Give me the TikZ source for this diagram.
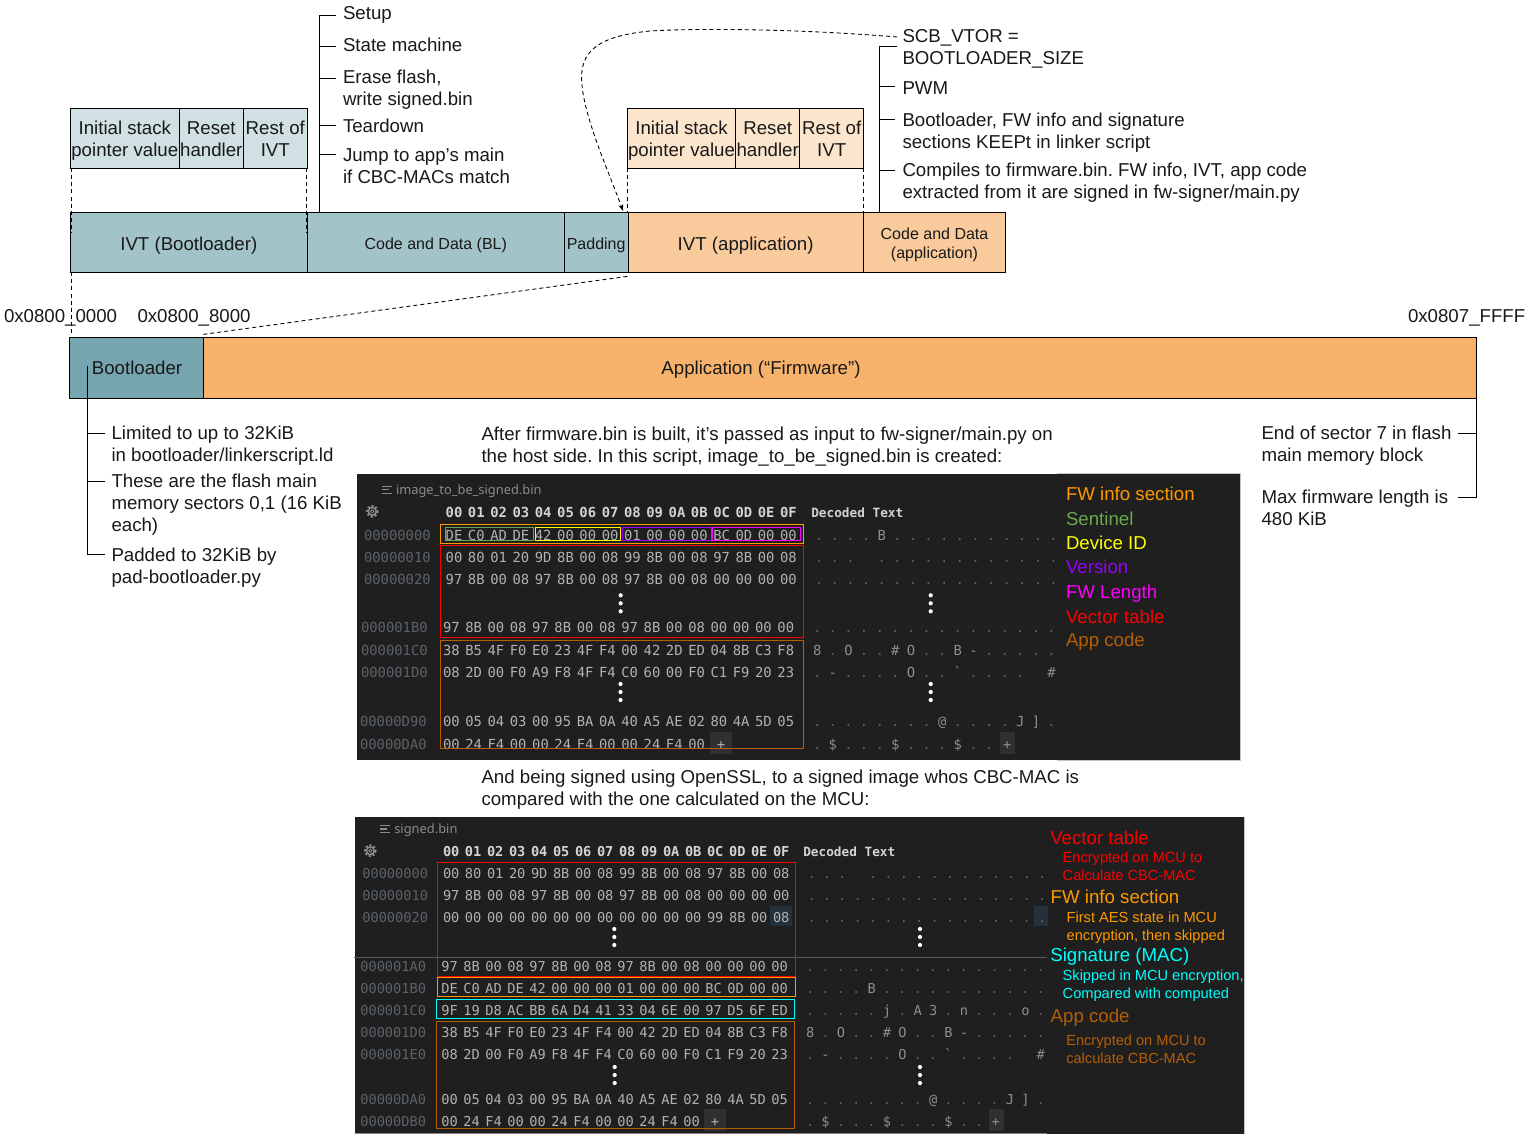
\documentclass[tikz,border=0pt]{standalone}
\usepackage{fontspec}
\setmainfont{Liberation Sans}
\newfontfamily\hexfam{DejaVu Sans Mono}
\newfontfamily\tabfam{Noto Sans}
\usetikzlibrary{arrows.meta}
\AtBeginDocument{\frenchspacing}
\definecolor{panel}{HTML}{1F1F1F}
\definecolor{ivtl}{HTML}{D0E0E3}
\definecolor{ivtm}{HTML}{A2C4C9}
\definecolor{ivtd}{HTML}{76A5AF}
\definecolor{appl}{HTML}{FCE5CD}
\definecolor{appm}{HTML}{F9CB9C}
\definecolor{appd}{HTML}{F6B26B}
\definecolor{hexc}{HTML}{B2B2B2}
\definecolor{hdrc}{HTML}{D4D4D4}
\definecolor{addrc}{HTML}{5C626A}
\definecolor{dotc}{HTML}{5E5E5E}
\definecolor{letc}{HTML}{8E8E8E}
\definecolor{tabc}{HTML}{8C8C8C}
\definecolor{plusb}{HTML}{303030}
\definecolor{hlb}{HTML}{24303C}
\definecolor{edgec}{HTML}{C4C4C4}
\definecolor{sepc}{HTML}{5A5A5A}
\definecolor{cfw}{HTML}{FF9900}
\definecolor{csen}{HTML}{6AA84F}
\definecolor{cdev}{HTML}{FFFF00}
\definecolor{cver}{HTML}{9900FF}
\definecolor{clen}{HTML}{FF00FF}
\definecolor{cvec}{HTML}{FF0000}
\definecolor{capp}{HTML}{B45F06}
\definecolor{csig}{HTML}{00FFFF}
\newcommand\fA{\hexfam\fontsize{10.4}{12}\selectfont\spaceskip=4.2pt\xspaceskip=4.2pt\relax}
\newcommand\fB{\hexfam\fontsize{10.25}{12}\selectfont\spaceskip=4.16pt\xspaceskip=4.16pt\relax}
\newcommand\dA{\hexfam\fontsize{10.4}{12}\selectfont\spaceskip=5.46pt\xspaceskip=5.46pt\relax}
\newcommand\dB{\hexfam\fontsize{10.25}{12}\selectfont\spaceskip=5.36pt\xspaceskip=5.36pt\relax}
\newcommand\Bk{\hphantom{.}}
\newcommand\Up[1]{\rule{0pt}{#1pt}}
\newcommand\Lt[1]{\textcolor{letc}{#1}}
\newcommand\Dall{. . . . . . . . . . . . . . . .}
\newcommand\Dsp{. . . \Bk{} . . . . . . . . . . . .}
\newcommand\Dfw{. . . . \Lt{B} . . . . . . . . . . .}
\newcommand\Dcodea{\Lt{8} . \Lt{O} . . \Lt{\#} \Lt{O} . . \Lt{B} \Lt{-} . . . . .}
\newcommand\Dcodeb{. \Lt{-} . . . . \Lt{O} . . \Lt{`} . . . . \Bk{} \Lt{\#}}
\newcommand\Dcodec{. . . . . . . . \Lt{@} . . . . \Lt{J} \Lt{]} .}
\newcommand\Dcoded{. \Lt{\$} . . . \Lt{\$} . . . \Lt{\$} . .}
\newcount\nn
\newcommand\T[3][]{\global\advance\nn by 1\relax\node[txt,#1] (t\the\nn) at (#2) {#3};}
\newcommand\BX[7][]{% opts, name, x1,y1,x2,y2, text
  \pgfmathsetmacro\bw{(#5-#3)*0.75}\pgfmathsetmacro\bh{(#6-#4)*0.75}
  \pgfmathsetmacro\bx{(#3+#5)/2}\pgfmathsetmacro\by{(#4+#6)/2}
  \node[bx,minimum width=\bw pt,minimum height=\bh pt,#1] (#2) at (\bx,\by) {#7};}
\newcommand\RC[6]{\draw[line width=.8pt,draw=#1] (#2,#3) rectangle (#4,#5);}
\newcommand\Tick[4]{\coordinate (#1a) at (#2,#4);\coordinate (#1b) at (#3,#4);\draw[conn] (#1a) -- (#1b);}
\newcommand\Gear[2]{\draw[tabc,line width=1.1pt] (#1,#2) circle[radius=3.9];
  \draw[tabc,line width=1.5pt,dash pattern=on 1.5pt off 1.5pt] (#1,#2) circle[radius=5.4];
  \draw[tabc,line width=.6pt] (#1,#2) circle[radius=1.6];}
\newcommand\Tab[3]{\draw[tabc,line width=.9pt] (#1,#2-3.5) -- ++(9.5,0) (#1,#2) -- ++(7,0) (#1,#2+3.7) -- ++(9.5,0);}
\newcommand\Vdots[3]{\fill[white] (#1,#2) circle[radius=2.1] (#1,#2+8) circle[radius=2.1] (#1,#2+16) circle[radius=2.1];}
\tikzset{
  x=.75pt,y=-.75pt,
  txt/.style={anchor=base west,yshift=-.75pt,inner sep=0pt,outer sep=0pt,align=left,font=\fontsize{14}{16.5}\selectfont,text=black!90},
  sm/.style={font=\fontsize{10.95}{13.2}\selectfont},
  ctr/.style={anchor=base,align=center},
  bx/.style={draw=black,line width=.75pt,inner sep=0pt,outer sep=0pt,align=center,font=\fontsize{14}{16.5}\selectfont,text=black!90},
  small/.style={font=\fontsize{12}{14}\selectfont},
  conn/.style={draw=black,line width=.75pt},
  dsh/.style={draw=black,line width=.65pt,dash pattern=on 3pt off 2.3pt},
  hex/.style={txt,yshift=-3pt,text=hexc,align=left},
  adr/.style={txt,yshift=-3pt,text=addrc},
  dec/.style={txt,yshift=-3pt,text=dotc},
}
\begin{document}
\begin{tikzpicture}
\useasboundingbox (0,0) rectangle (1533,1141);
\fill[white] (0,0) rectangle (1533,1141);
%%% sub boxes
\BX[fill=ivtl,text depth=3pt]{sa1}{70.3}{108.3}{179.3}{168.3}{\Up{14.2}Initial stack\\pointer value}
\BX[fill=ivtl,text depth=3pt]{sa2}{179.3}{108.3}{243.3}{168.3}{\Up{14.2}Reset\\handler}
\BX[fill=ivtl,text depth=3pt]{sa3}{243.3}{108.3}{307.3}{168.3}{\Up{14.2}Rest of\\IVT}
\BX[fill=appl,text depth=3pt]{sb1}{627.3}{108.3}{735.7}{168.3}{\Up{14.2}Initial stack\\pointer value}
\BX[fill=appl,text depth=3pt]{sb2}{735.7}{108.3}{799.7}{168.3}{\Up{14.2}Reset\\handler}
\BX[fill=appl,text depth=3pt]{sb3}{799.7}{108.3}{863.7}{168.3}{\Up{14.2}Rest of\\IVT}
%%% middle bar
\BX[fill=ivtm,text depth=3pt]{bivt}{70.3}{212.3}{307.3}{272.3}{\Up{14.7}IVT (Bootloader)}
\BX[fill=ivtm,small,text depth=2.6pt]{bcode}{307.3}{212.3}{564.3}{272.3}{\Up{13.2}Code and Data (BL)}
\BX[fill=ivtm,small,text depth=2.6pt]{bpad}{564.3}{212.3}{628}{272.3}{\Up{13.2}Padding}
\BX[fill=appm,text depth=3pt]{aivt}{628}{212.3}{863.3}{272.3}{\Up{14.7}IVT (application)}
\BX[fill=appm,small,text depth=2.6pt]{acode}{863.3}{212.3}{1005.7}{272.3}{\Up{12.5}Code and Data\\(application)}
%%% memory bar
\BX[fill=ivtd]{boot}{69.3}{337.3}{203.3}{398.3}{}
\BX[fill=appd]{appb}{203.3}{337.3}{1476.7}{398.3}{}
\T[ctr]{137,373}{Bootloader}
\T[ctr]{761,373}{Application (“Firmware”)}
%%% dashed links
\draw[dsh] ([xshift=.75pt]sa1.south west) -- ([xshift=.75pt,yshift=-15pt]bivt.north west);
\draw[dsh] ([xshift=-.75pt]sa3.south east) -- ([xshift=-.75pt,yshift=-15pt]bivt.north east);
\draw[dsh] (sb1.south west) -- (sb1.south west |- bpad.north east);
\draw[dsh] (sb3.south east) -- (sb3.south east |- aivt.north east);
\draw[dsh] ([xshift=.75pt]bivt.south west) -- ([xshift=1.5pt,yshift=3pt]boot.north west);
\draw[dsh] ([yshift=2.2pt]boot.north east) -- ([yshift=-3pt]aivt.south west);
%%% top trees
\coordinate (la) at (319.5,15.5); \coordinate (lb) at (319.5,212);
\draw[conn] (la) -- (lb);
\Tick{l1}{319.5}{335.7}{15.5}
\Tick{l2}{319.5}{335.7}{46.5}
\Tick{l3}{319.5}{335.7}{78.5}
\Tick{l4}{319.5}{335.7}{125.5}
\Tick{l5}{319.5}{335.7}{154.5}
\T{343,19}{Setup}
\T{343,51}{State machine}
\T{343,105}{Erase flash,\\write signed.bin}
\T{343,132}{Teardown}
\T{343,183}{Jump to app’s main\\if CBC-MACs match}
\coordinate (ra) at (879.5,46.5); \coordinate (rb) at (879.5,212);
\draw[conn] (ra) -- (rb);
\Tick{r1}{879.5}{897}{46.5}
\Tick{r2}{879.5}{895}{86.5}
\Tick{r3}{879.5}{895}{119.5}
\Tick{r4}{879.5}{895}{170.5}
\T{902.5,64}{SCB\_VTOR =\\BOOTLOADER\_SIZE}
\T{902.5,94}{PWM}
\T{902.5,148}{Bootloader, FW info and signature\\sections KEEPt in linker script}
\T{902.5,198}{Compiles to firmware.bin. FW info, IVT, app code\\extracted from it are signed in fw-signer/main.py}
\coordinate (vtor) at (897,37);
\coordinate (vtgt) at (623,211);
\draw[dsh,-{Stealth[length=5pt,width=3.6pt]}] (vtor) .. controls (800,29) and (700,28) .. (650,31)
  .. controls (600,36) and (578,50) .. (582,85) .. controls (585,120) and (610,175) .. (vtgt);
%%% addresses
\T{4,321.7}{0x0800\_0000}
\T{137.5,321.7}{0x0800\_8000}
\T{1408,321.7}{0x0807\_FFFF}
%%% lower trees
\coordinate (ba) at (87,365.7); \coordinate (bb) at (87,554.5);
\draw[conn] (ba) -- (bb);
\Tick{b1}{87}{104.7}{433.5}
\Tick{b2}{87}{104.7}{481.5}
\Tick{b3}{87}{104.7}{554.5}
\T{111.5,460}{Limited to up to 32KiB\\in bootloader/linkerscript.ld}
\T{111.5,530}{These are the flash main\\memory sectors 0,1 (16 KiB\\each)}
\T{111.5,582}{Padded to 32KiB by\\pad-bootloader.py}
\coordinate (ea) at (1476.7,398); \coordinate (eb) at (1476.7,497.5);
\draw[conn] (ea) -- (eb);
\Tick{e1}{1458.3}{1476.7}{433.5}
\Tick{e2}{1458.3}{1476.7}{497.5}
\T{1261.5,460}{End of sector 7 in flash\\main memory block}
\T{1261.5,524}{Max firmware length is\\480 KiB}
\T{481.5,461}{After firmware.bin is built, it’s passed as input to fw-signer/main.py on\\the host side. In this script, image\_to\_be\_signed.bin is created:}
\T{481.5,804}{And being signed using OpenSSL, to a signed image whos CBC-MAC is\\compared with the one calculated on the MCU:}
%%% PANEL 1
\fill[panel] (357,474) rectangle (1240,760);
\draw[edgec,line width=.75pt] (1057,473.5) -- (1240,473.5) -- (1240,760) -- (1057,760);
\Tab{382}{489.7}{}
\T[text=tabc,font=\tabfam\fontsize{9.65}{12}\selectfont]{396,493}{image\_to\_be\_signed.bin}
\Gear{372.3}{511.3}
\T[hex,font=\fA\bfseries,text=hdrc]{445.7,511.3}{00 01 02 03 04 05 06 07 08 09 0A 0B 0C 0D 0E 0F}
\T[hex,font=\hexfam\bfseries\fontsize{9.55}{12}\selectfont,text=hdrc]{811.3,511.3}{Decoded Text}
\fill[plusb] (709.7,731.7) rectangle (732,754);
\fill[plusb] (1000,731.7) rectangle (1015,754);
\T[adr,font=\fA]{364,534}{00000000}
\T[adr,font=\fA]{364,556.3}{00000010}
\T[adr,font=\fA]{364,578.6}{00000020}
\T[adr,font=\fA]{361,626.5}{000001B0}
\T[adr,font=\fA]{361,649}{000001C0}
\T[adr,font=\fA]{361,671}{000001D0}
\T[adr,font=\fA]{360,720.3}{00000D90}
\T[adr,font=\fA]{360,743}{00000DA0}
\T[hex,font=\fA]{445.7,534}{DE C0 AD DE 42 00 00 00 01 00 00 00 BC 0D 00 00}
\T[hex,font=\fA]{445.7,556.3}{00 80 01 20 9D 8B 00 08 99 8B 00 08 97 8B 00 08}
\T[hex,font=\fA]{445.7,578.6}{97 8B 00 08 97 8B 00 08 97 8B 00 08 00 00 00 00}
\T[hex,font=\fA]{443,626.5}{97 8B 00 08 97 8B 00 08 97 8B 00 08 00 00 00 00}
\T[hex,font=\fA]{443,649}{38 B5 4F F0 E0 23 4F F4 00 42 2D ED 04 8B C3 F8}
\T[hex,font=\fA]{443,671}{08 2D 00 F0 A9 F8 4F F4 C0 60 00 F0 C1 F9 20 23}
\T[hex,font=\fA]{443,720.3}{00 05 04 03 00 95 BA 0A 40 A5 AE 02 80 4A 5D 05}
\T[hex,font=\fA]{443,743}{00 24 F4 00 00 24 F4 00 00 24 F4 00 \hphantom{.}\kern-1.5pt+}
\T[dec,font=\dA]{815,534}{\Dfw}
\T[dec,font=\dA]{815,556.3}{\Dsp}
\T[dec,font=\dA]{815,578.6}{\Dall}
\T[dec,font=\dA]{813,626.5}{\Dall}
\T[dec,font=\dA]{813,649}{\Dcodea}
\T[dec,font=\dA]{813,671}{\Dcodeb}
\T[dec,font=\dA]{813,720.3}{\Dcodec}
\T[dec,font=\dA]{813,743}{\Dcoded{} \kern1.9pt\Lt{+}}
\Vdots{620.7}{595.3}{}
\Vdots{620.5}{684}{}
\Vdots{930.7}{595.3}{}
\Vdots{930.7}{684}{}
\RC{cfw}{440.3}{524.3}{803.7}{543.7}{}
\RC{csen}{445.3}{527.3}{533.7}{540.3}{}
\RC{cdev}{535.3}{527.3}{620.7}{540.3}{}
\RC{cver}{622.3}{527.3}{712}{540.3}{}
\RC{clen}{712}{527.3}{800.7}{540.3}{}
\RC{cvec}{440.3}{545.3}{803.7}{637.3}{}
\RC{capp}{440.3}{640.7}{803.7}{748.3}{}
\T[text=cfw]{1066,499.7}{FW info section}
\T[text=csen]{1066,524}{Sentinel}
\T[text=cdev]{1066,548}{Device ID}
\T[text=cver]{1066,572.3}{Version}
\T[text=clen]{1066,597}{FW Length}
\T[text=cvec]{1066,622.3}{Vector table}
\T[text=capp]{1066,645.7}{App code}
%%% PANEL 2
\fill[panel] (355,817) rectangle (1244.5,1133.5);
\draw[edgec,line width=.75pt] (1244.5,817) -- (1244.5,1133.5);
\draw[edgec!60!panel,line width=.75pt] (355,1133.5) -- (1047,1133.5);
\draw[sepc,line width=.75pt] (354,957.3) -- (1047,957.3);
\Tab{380}{829}{}
\T[text=tabc,font=\tabfam\fontsize{9.65}{12}\selectfont]{394.3,832}{signed.bin}
\Gear{370.3}{850.7}
\fill[hlb] (770,905.7) rectangle (792,925.7);
\fill[hlb] (1034,905.7) rectangle (1048,925.7);
\fill[plusb] (704,1109) rectangle (726,1131);
\fill[plusb] (989,1109) rectangle (1004,1131);
\T[hex,font=\fB\bfseries,text=hdrc]{443,850.7}{00 01 02 03 04 05 06 07 08 09 0A 0B 0C 0D 0E 0F}
\T[hex,font=\hexfam\bfseries\fontsize{9.55}{12}\selectfont,text=hdrc]{803.3,850.7}{Decoded Text}
\T[adr,font=\fB]{362.3,872.7}{00000000}
\T[adr,font=\fB]{362.3,894.7}{00000010}
\T[adr,font=\fB]{362.3,916.7}{00000020}
\T[adr,font=\fB]{360.3,965.3}{000001A0}
\T[adr,font=\fB]{360.3,987.3}{000001B0}
\T[adr,font=\fB]{360.3,1009.3}{000001C0}
\T[adr,font=\fB]{360.3,1031.3}{000001D0}
\T[adr,font=\fB]{360.3,1053.3}{000001E0}
\T[adr,font=\fB]{360.3,1098}{00000DA0}
\T[adr,font=\fB]{360.3,1120}{00000DB0}
\T[hex,font=\fB]{443,872.7}{00 80 01 20 9D 8B 00 08 99 8B 00 08 97 8B 00 08}
\T[hex,font=\fB]{443,894.7}{97 8B 00 08 97 8B 00 08 97 8B 00 08 00 00 00 00}
\T[hex,font=\fB]{443,916.7}{00 00 00 00 00 00 00 00 00 00 00 00 99 8B 00 08}
\T[hex,font=\fB]{441.3,965.3}{97 8B 00 08 97 8B 00 08 97 8B 00 08 00 00 00 00}
\T[hex,font=\fB]{441.3,987.3}{DE C0 AD DE 42 00 00 00 01 00 00 00 BC 0D 00 00}
\T[hex,font=\fB]{441.3,1009.3}{9F 19 D8 AC BB 6A D4 41 33 04 6E 00 97 D5 6F ED}
\T[hex,font=\fB]{441.3,1031.3}{38 B5 4F F0 E0 23 4F F4 00 42 2D ED 04 8B C3 F8}
\T[hex,font=\fB]{441.3,1053.3}{08 2D 00 F0 A9 F8 4F F4 C0 60 00 F0 C1 F9 20 23}
\T[hex,font=\fB]{441.3,1098}{00 05 04 03 00 95 BA 0A 40 A5 AE 02 80 4A 5D 05}
\T[hex,font=\fB]{441.3,1120}{00 24 F4 00 00 24 F4 00 00 24 F4 00 \hphantom{.}\kern-2pt+}
\T[dec,font=\dB]{807.5,872.7}{\Dsp}
\T[dec,font=\dB]{807.5,894.7}{\Dall}
\T[dec,font=\dB]{807.5,916.7}{\Dall}
\T[dec,font=\dB]{806,965.3}{\Dall}
\T[dec,font=\dB]{806,987.3}{\Dfw}
\T[dec,font=\dB]{806,1009.3}{. . . . . \Lt{j} . \Lt{A} \Lt{3} . \Lt{n} . . . \Lt{o} .}
\T[dec,font=\dB]{806,1031.3}{\Dcodea}
\T[dec,font=\dB]{806,1053.3}{\Dcodeb}
\T[dec,font=\dB]{806,1098}{\Dcodec}
\T[dec,font=\dB]{806,1120}{\Dcoded{} \kern.75pt\Lt{+}}
\Vdots{614.3}{929}{}
\Vdots{614.7}{1067}{}
\Vdots{920}{929}{}
\Vdots{920}{1067}{}
\RC{cvec}{437.3}{862.3}{795.7}{976.7}{}
\RC{cfw}{437.3}{977.3}{795.7}{996.7}{}
\RC{csig}{436.3}{999.3}{794.7}{1018.7}{}
\RC{capp}{436.3}{1021.7}{794.7}{1128.3}{}
\T[text=cvec]{1050.3,843.3}{Vector table}
\T[text=cvec,sm]{1062.7,879}{Encrypted on MCU to\\Calculate CBC-MAC}
\T[text=cfw]{1050.7,902.3}{FW info section}
\T[text=cfw,sm]{1066.7,939}{First AES state in MCU\\encryption, then skipped}
\T[text=csig]{1050.3,960}{Signature (MAC)}
\T[text=csig,sm]{1062.7,997}{Skipped in MCU encryption,\\Compared with computed}
\T[text=capp]{1050.7,1021.3}{App code}
\T[text=capp,sm]{1066.3,1062}{Encrypted on MCU to\\calculate CBC-MAC}
\end{tikzpicture}
\end{document}
